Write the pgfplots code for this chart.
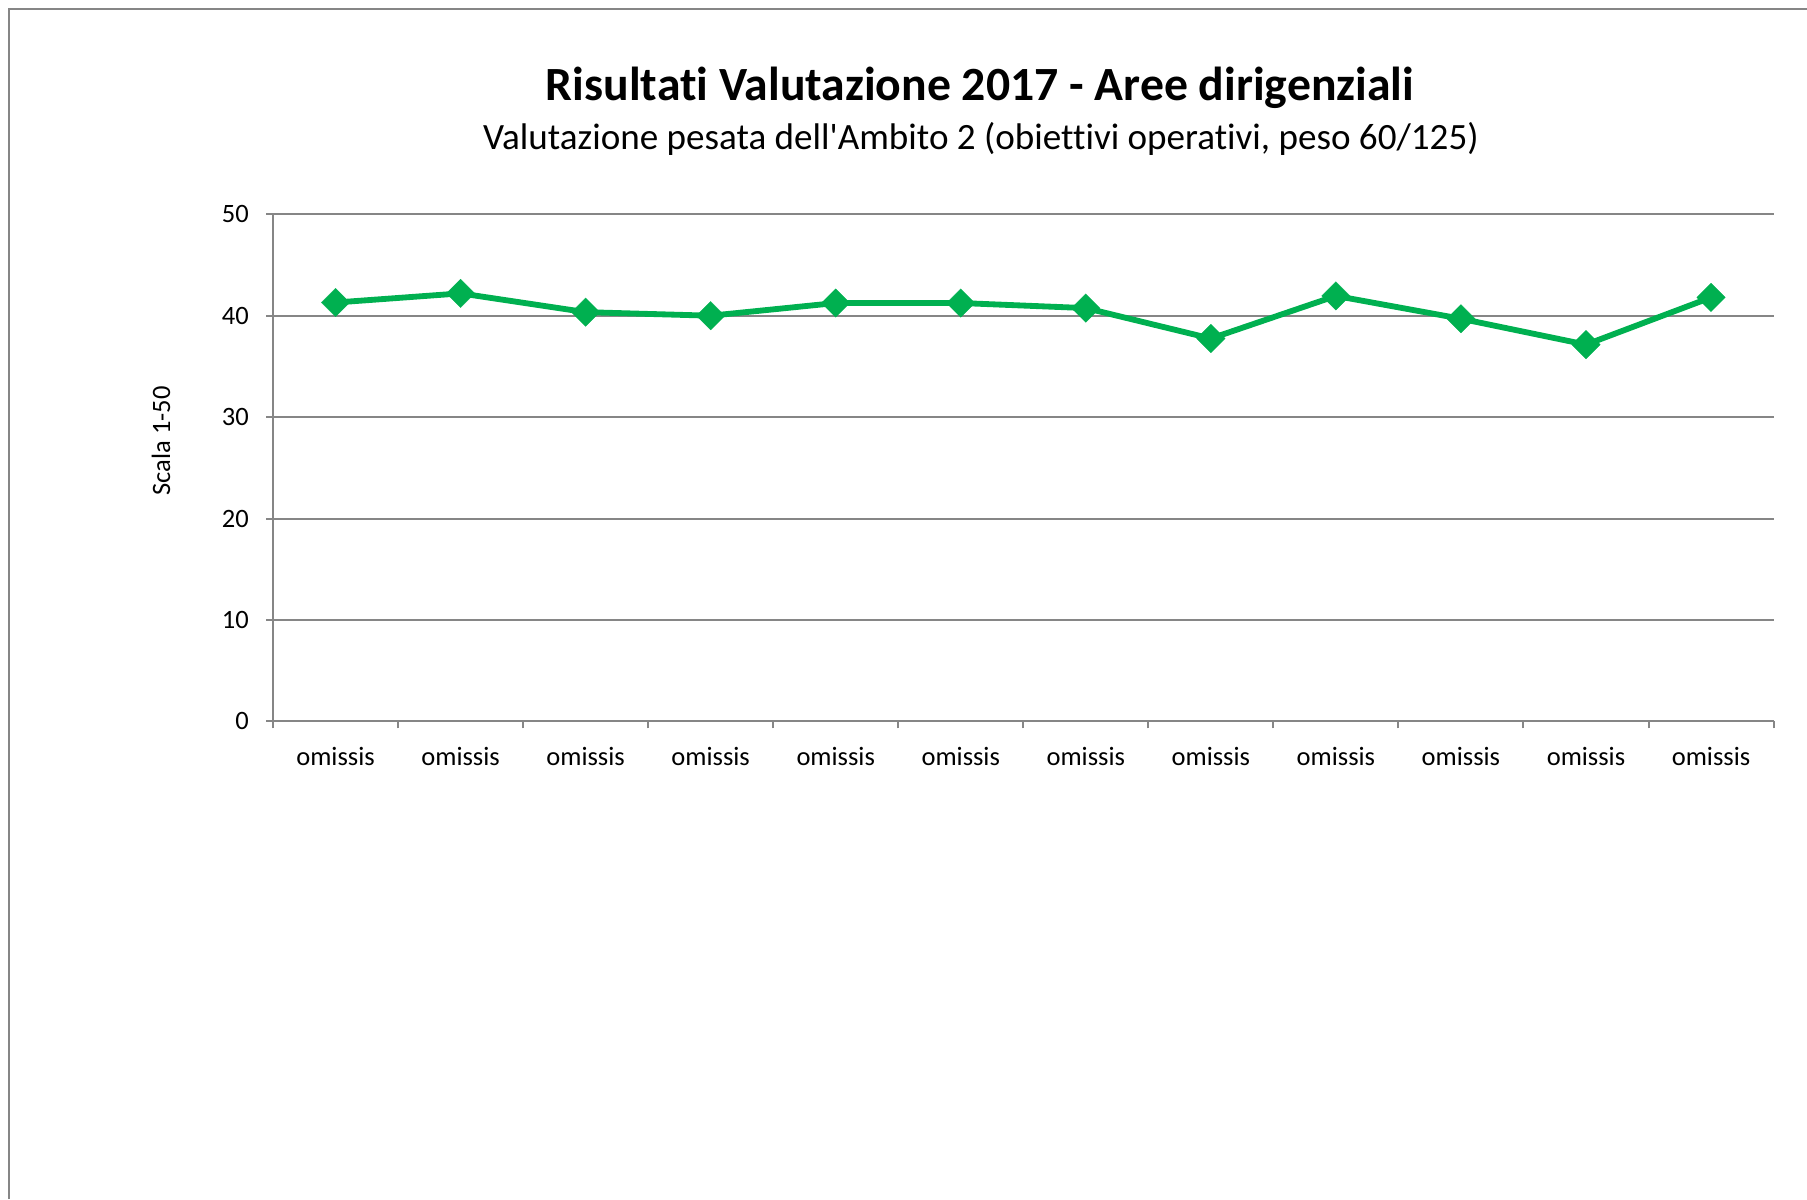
\documentclass[border=0pt]{standalone}
\usepackage{fontspec}
\setmainfont{Carlito}[Ligatures=NoCommon]
\newfontfamily\calfont{Carlito}[Ligatures=NoCommon]
\usepackage{pgfplots}
\pgfplotsset{compat=1.18}
\definecolor{xlgreen}{HTML}{00B050}
\definecolor{xlgray}{HTML}{868686}
\begin{document}
\begin{tikzpicture}
\begin{scope}[x=0.3774pt,y=-0.3774pt]
\path[use as bounding box] (0,0) rectangle (1807,1199);
\draw[xlgray, line width=0.9pt] (9,1199) -- (9,9) -- (1807,9);
\node[font=\calfont\bfseries\fontsize{18}{22}\selectfont] at (980,87.5) {Risultati Valutazione 2017 - Aree dirigenziali};
\node[font=\calfont\fontsize{14}{17}\selectfont] at (981,138.5) {Valutazione pesata dell'Ambito 2 (obiettivi operativi, peso 60/125)};
\node[rotate=90, font=\calfont\fontsize{10}{12}\selectfont] at (161,441) {Scala 1-50};
\end{scope}
\begin{axis}[at={(103.03pt,-272.26pt)}, anchor=south west,
  scale only axis, width=566.3pt, height=191.4pt,
  xmin=0.5, xmax=12.5, ymin=0, ymax=50,
  axis x line*=bottom, axis y line*=left,
  axis line style={xlgray, line width=0.75pt, -},
  xtick={1,...,12},
  xticklabels={omissis,omissis,omissis,omissis,omissis,omissis,omissis,omissis,omissis,omissis,omissis,omissis},
  major x tick style={draw=none},
  minor xtick={0.5,1.5,...,12.5},
  ytick={0,10,...,50},
  ymajorgrids, major grid style={xlgray, line width=0.75pt},
  tick align=outside, tick style={xlgray, line width=0.75pt},
  major tick length=2.6pt, minor tick length=2.6pt,
  ticklabel style={font=\fontsize{10}{12}\selectfont, text=black},
  xticklabel style={yshift=-3.5pt},
  yticklabel style={xshift=-3pt},
  /pgf/number format/assume math mode=true,
  clip=false]
\addplot[xlgreen, line width=2.2pt, mark=square*, mark size=3.8pt,
  mark options={rotate=45, solid, fill=xlgreen, line width=0.1pt}]
  coordinates {(1,41.3) (2,42.2) (3,40.35) (4,40.0) (5,41.25) (6,41.25) (7,40.75) (8,37.75) (9,41.95) (10,39.7) (11,37.15) (12,41.8)};
\end{axis}
\end{tikzpicture}
\end{document}
